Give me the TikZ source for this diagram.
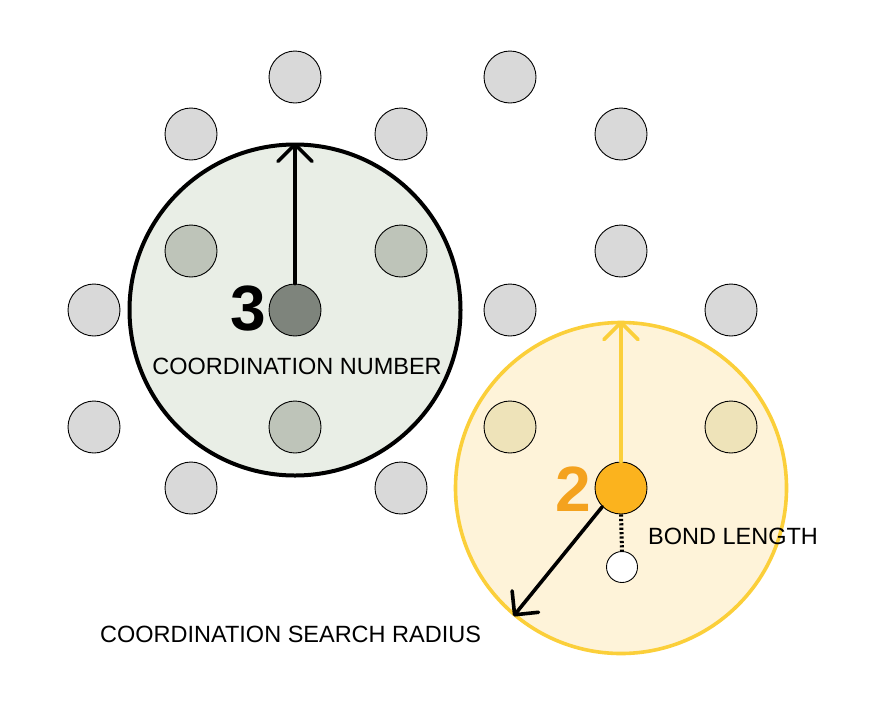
\documentclass[tikz,border=0pt]{standalone}
\usepackage{fontspec}
\setmainfont{Liberation Sans}
\usetikzlibrary{arrows.meta}
\definecolor{atomgray}{HTML}{D9D9D9}
\definecolor{innergray}{HTML}{BEC4B9}
\definecolor{centergray}{HTML}{7E847C}
\definecolor{zonegreen}{HTML}{E9EEE6}
\definecolor{zoneyellow}{HTML}{FEF3D9}
\definecolor{ringyellow}{HTML}{FBCF3A}
\definecolor{inneryellow}{HTML}{EEE3B9}
\definecolor{orangeatom}{HTML}{FBB31E}
\definecolor{labelorange}{HTML}{F4A21E}
\tikzset{
  atom/.style={circle, draw=black, line width=0.9pt, minimum size=52pt, inner sep=0pt, fill=atomgray},
  zone/.style={circle, minimum size=331pt, inner sep=0pt},
  barb/.style={-{Straight Barb[length=17pt,width=34pt,line cap=round,line join=round]}, line width=3.6pt, line cap=round},
  lbl/.style={font=\fontsize{23.5}{26}\selectfont, inner sep=0pt},
  big/.style={font=\fontsize{64}{66}\selectfont\bfseries, inner sep=0pt}
}
\begin{document}
\begin{tikzpicture}[x=1pt,y=-1pt]
\useasboundingbox (0,0) rectangle (888,702);
% zones
\node[zone, fill=zonegreen, draw=black, line width=4pt] (zoneA) at (295,310) {};
\node[zone, fill=zoneyellow, draw=ringyellow, line width=3.6pt] (zoneB) at (621,488) {};
% outer atoms
\node[atom] (a1) at (295,77) {};
\node[atom] (a2) at (510,77) {};
\node[atom] (a3) at (191,134) {};
\node[atom] (a4) at (401,134) {};
\node[atom] (a5) at (621,134) {};
\node[atom] (a6) at (621,251) {};
\node[atom] (a7) at (94,310) {};
\node[atom] (a8) at (510,310) {};
\node[atom] (a9) at (731,310) {};
\node[atom] (a10) at (94,427) {};
\node[atom] (a11) at (191,488) {};
\node[atom] (a12) at (401,488) {};
% atoms inside green zone
\node[atom, fill=innergray] (g1) at (191,251) {};
\node[atom, fill=innergray] (g2) at (401,251) {};
\node[atom, fill=innergray] (g3) at (295,427) {};
\node[atom, fill=centergray] (gc) at (295,310) {};
% atoms inside yellow zone
\node[atom, fill=inneryellow] (y1) at (510,427) {};
\node[atom, fill=inneryellow] (y2) at (731,427) {};
\node[atom, fill=orangeatom] (yc) at (621,488) {};
\node[circle, draw=black, line width=0.9pt, fill=white, minimum size=31pt, inner sep=0pt] (w) at (622,567) {};
% connectors
\draw[barb, black] (gc.north) -- (zoneA.north);
\draw[barb, ringyellow] (yc.north) -- (zoneB.north);
\draw[barb, black] (yc.225) -- (zoneB.230);
\draw[line width=4pt, dash pattern=on 2.2pt off 2.2pt] (yc.south) -- (w.north);
% labels
\node[big, anchor=east] (n3) at (266,309) {3};
\node[big, anchor=east, text=labelorange] (n2) at (591,489) {2};
\node[lbl] (cn) at (297,366) {COORDINATION NUMBER};
\node[lbl, anchor=west] (bl) at (648,536) {BOND LENGTH};
\node[lbl, anchor=west] (sr) at (100,634) {COORDINATION SEARCH RADIUS};
\end{tikzpicture}
\end{document}
